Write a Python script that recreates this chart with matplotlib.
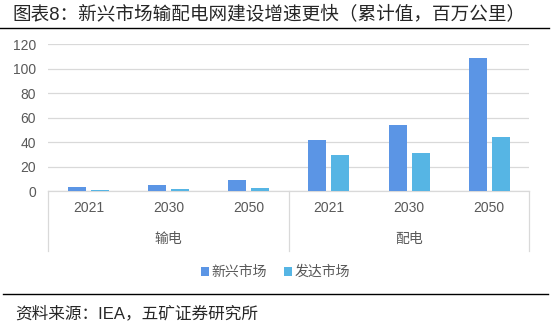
import matplotlib.pyplot as plt
import numpy as np

plt.rcParams['font.family'] = ['Liberation Sans', 'Noto Sans CJK SC']

years = ['2021', '2030', '2050', '2021', '2030', '2050']
groups = ['输电', '配电']
series_names = ['新兴市场', '发达市场']
emerging = [3.5, 5.2, 9.0, 41.7, 54.0, 108.8]
developed = [1.0, 1.6, 2.5, 29.4, 31.0, 44.2]

c_em = '#5B95E5'
c_dev = '#56B5E4'
grid_c = '#D9D9D9'
txt_c = '#595959'

fig = plt.figure(figsize=(5.51, 3.22), dpi=100)
ax = fig.add_axes([0.0877, 0.4068, 0.873, 0.4556])

x = np.arange(len(years))
w = 0.224
gap = 0.062
ax.bar(x - (w + gap) / 2, emerging, w, color=c_em, label=series_names[0], zorder=3)
ax.bar(x + (w + gap) / 2, developed, w, color=c_dev, label=series_names[1], zorder=3)

ax.set_xlim(-0.5, len(years) - 0.5)
ax.set_ylim(0, 120)
ax.set_yticks(range(0, 121, 20))
ax.yaxis.grid(True, color=grid_c, linewidth=0.9)
ax.set_axisbelow(True)
ax.tick_params(axis='y', length=0, pad=9, labelsize=10, labelcolor=txt_c)
ax.set_xticks([])
for s in ['top', 'right', 'left']:
    ax.spines[s].set_visible(False)
ax.spines['bottom'].set_color(grid_c)
ax.spines['bottom'].set_linewidth(0.9)

# two-level category axis
tr = ax.get_xaxis_transform()
px = 146.7  # axis height in pixels
for i, yr in enumerate(years):
    ax.text(i, -17 / px, yr, transform=tr, ha='center', va='center',
            fontsize=10, color=txt_c)
n = len(years) // len(groups)
for g, name in enumerate(groups):
    ax.text(g * n + (n - 1) / 2, -48 / px, name, transform=tr, ha='center',
            va='center', fontsize=10, color=txt_c)
for b in [-0.5, n - 0.5, len(years) - 0.5]:
    ax.plot([b, b], [0, -60 / px], transform=tr, color=grid_c,
            linewidth=0.9, clip_on=False)

ax.legend(loc='center', bbox_to_anchor=(0.5, 1 - 272 / 322),
          bbox_transform=fig.transFigure, ncol=2, frameon=False,
          fontsize=10, handlelength=0.6, handleheight=0.6,
          handletextpad=0.2, columnspacing=1.2, labelcolor=txt_c)

fig.text(12 / 551, 1 - 14 / 322, '图表8：新兴市场输配电网建设增速更快（累计值，百万公里）',
         ha='left', va='center', fontsize=13.4, color='#262626')
fig.add_artist(plt.Line2D([0, 549 / 551], [1 - 28 / 322, 1 - 28 / 322],
                          transform=fig.transFigure, color='black', linewidth=1))
fig.add_artist(plt.Line2D([3 / 551, 548 / 551], [1 - 294 / 322, 1 - 294 / 322],
                          transform=fig.transFigure, color='black', linewidth=1))
fig.text(15 / 551, 1 - 313 / 322, '资料来源：IEA，五矿证券研究所',
         ha='left', va='center', fontsize=12, color='#262626')

plt.savefig('out.png', dpi=100)
